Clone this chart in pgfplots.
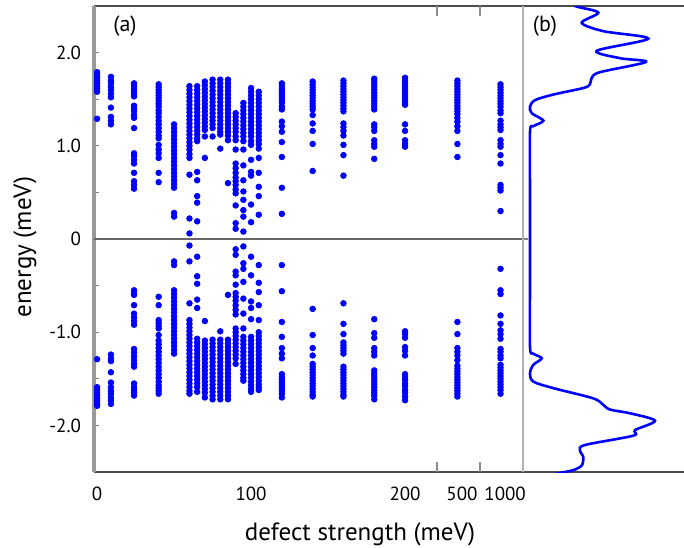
\documentclass[border=0pt]{standalone}
\usepackage{fontspec}
\setmainfont{PT Sans}
\usepackage{pgfplots}
\pgfplotsset{compat=1.18}
\begin{document}
\begin{tikzpicture}
\useasboundingbox (-47pt,-37.5pt) rectangle (295pt,236pt);
\begin{axis}[
  at={(0,0)}, anchor=south west,
  width=214.5pt, height=233pt, scale only axis,
  xmin=-2, xmax=276.6, ymin=-2.5, ymax=2.5,
  axis x line=box, axis y line*=left,
  x axis line style={-, draw=black!70, line width=1pt},
  y axis line style={-, draw=black!40, line width=1.6pt},
  xtick={0,100,200,237,265}, xticklabels={0,100,200,500,1000},
  xtick style={draw=none},
  extra x ticks={220.8,248.7}, extra x tick labels={},
  extra x tick style={xtick style={draw=black!45, line width=1.4pt}, major tick length=5pt},
  ytick={-2,-1.5,-1,-0.5,0,0.5,1,1.5,2},
  yticklabels={-2.0,,-1.0,,0,,1.0,,2.0},
  ytick style={draw=black!50, line width=0.6pt}, major tick length=2.5pt,
  tick align=inside,
  every tick label/.append style={font=\fontsize{9.5}{11}\selectfont},
  yticklabel style={xshift=-3pt},
  xticklabel style={yshift=-4pt},
  xlabel={defect strength (meV)},
  ylabel={energy (meV)},
  every axis x label/.style={at={(axis description cs:0.62,0)}, anchor=north, yshift=-22pt, font=\fontsize{12.5}{14}\selectfont},
  every axis y label/.style={at={([xshift=-34.5pt,yshift=-4pt]axis description cs:0,0.5)}, rotate=90, anchor=center, font=\fontsize{12.5}{14}\selectfont},
]
\draw[black!60, line width=0.7pt] (axis cs:-2,0) -- (axis cs:276.6,0);
\addplot[only marks, mark=*, mark size=1.4pt, color=blue, mark options={draw=blue, fill=blue}] coordinates {
(0,1.79) (0,1.76) (0,1.73) (0,1.70) (0,1.67) (0,1.64) (0,1.61) (0,1.58) (0,1.29)
(0,-1.29) (0,-1.59) (0,-1.62) (0,-1.65) (0,-1.68) (0,-1.71) (0,-1.74) (0,-1.77) (0,-1.79)
(9,1.74) (9,1.70) (9,1.67) (9,1.63) (9,1.60) (9,1.56) (9,1.52) (9,1.41) (9,1.31) (9,1.27) (9,1.23)
(9,-1.24) (9,-1.28) (9,-1.31) (9,-1.43) (9,-1.54) (9,-1.59) (9,-1.63) (9,-1.66) (9,-1.70) (9,-1.73) (9,-1.77)
(24,1.67) (24,1.64) (24,1.61) (24,1.58) (24,1.55) (24,1.53) (24,1.43) (24,1.40) (24,1.37) (24,1.33) (24,1.30) (24,1.19) (24,0.92) (24,0.89) (24,0.85) (24,0.81) (24,0.71) (24,0.62) (24,0.58) (24,0.54)
(24,-0.55) (24,-0.58) (24,-0.60) (24,-0.71) (24,-0.80) (24,-0.84) (24,-0.88) (24,-0.92) (24,-1.18) (24,-1.22) (24,-1.26) (24,-1.30) (24,-1.34) (24,-1.37) (24,-1.55) (24,-1.59) (24,-1.62) (24,-1.65) (24,-1.68)
(40,1.66) (40,1.63) (40,1.60) (40,1.57) (40,1.54) (40,1.51) (40,1.48) (40,1.45) (40,1.42) (40,1.38) (40,1.35) (40,1.31) (40,1.27) (40,1.23) (40,1.19) (40,1.15) (40,1.11) (40,1.08) (40,1.01) (40,0.96) (40,0.92) (40,0.87) (40,0.71) (40,0.61)
(40,-0.62) (40,-0.71) (40,-0.87) (40,-0.90) (40,-0.93) (40,-0.96) (40,-1.03) (40,-1.09) (40,-1.13) (40,-1.17) (40,-1.21) (40,-1.25) (40,-1.29) (40,-1.33) (40,-1.37) (40,-1.41) (40,-1.45) (40,-1.49) (40,-1.53) (40,-1.57) (40,-1.60) (40,-1.63) (40,-1.66)
(50,1.23) (50,1.19) (50,1.15) (50,1.11) (50,1.07) (50,1.03) (50,0.99) (50,0.95) (50,0.91) (50,0.87) (50,0.83) (50,0.79) (50,0.75) (50,0.71) (50,0.67) (50,0.63) (50,0.59) (50,0.55) (50,0.28) (50,0.24)
(50,-0.24) (50,-0.28) (50,-0.55) (50,-0.59) (50,-0.63) (50,-0.67) (50,-0.71) (50,-0.75) (50,-0.79) (50,-0.83) (50,-0.87) (50,-0.91) (50,-0.95) (50,-0.99) (50,-1.03) (50,-1.07) (50,-1.11) (50,-1.15) (50,-1.19) (50,-1.23)
(60,1.64) (60,1.60) (60,1.56) (60,1.52) (60,1.48) (60,1.44) (60,1.40) (60,1.36) (60,1.32) (60,1.28) (60,1.24) (60,1.20) (60,1.16) (60,1.12) (60,1.08) (60,1.04) (60,1.00) (60,0.96) (60,0.91) (60,0.87) (60,0.69) (60,0.22) (60,0.06)
(60,-0.07) (60,-0.24) (60,-0.69) (60,-0.87) (60,-0.91) (60,-0.95) (60,-0.99) (60,-1.03) (60,-1.07) (60,-1.11) (60,-1.15) (60,-1.19) (60,-1.23) (60,-1.27) (60,-1.31) (60,-1.35) (60,-1.39) (60,-1.43) (60,-1.47) (60,-1.51) (60,-1.55) (60,-1.59) (60,-1.63) (60,-1.66)
(65,1.64) (65,1.60) (65,1.56) (65,1.52) (65,1.48) (65,1.44) (65,1.40) (65,1.36) (65,1.32) (65,1.28) (65,1.24) (65,1.20) (65,1.16) (65,1.12) (65,1.08) (65,1.05) (65,0.72) (65,0.63) (65,0.46) (65,0.39) (65,0.19)
(65,-0.19) (65,-0.40) (65,-0.48) (65,-0.65) (65,-0.74) (65,-1.07) (65,-1.11) (65,-1.15) (65,-1.19) (65,-1.23) (65,-1.27) (65,-1.31) (65,-1.35) (65,-1.39) (65,-1.43) (65,-1.47) (65,-1.51) (65,-1.55) (65,-1.59) (65,-1.64)
(70,1.69) (70,1.65) (70,1.61) (70,1.57) (70,1.53) (70,1.49) (70,1.45) (70,1.41) (70,1.37) (70,1.33) (70,1.29) (70,1.25) (70,1.21) (70,1.17) (70,1.10) (70,0.87)
(70,-0.88) (70,-1.09) (70,-1.13) (70,-1.17) (70,-1.21) (70,-1.25) (70,-1.29) (70,-1.33) (70,-1.37) (70,-1.41) (70,-1.45) (70,-1.49) (70,-1.53) (70,-1.57) (70,-1.61) (70,-1.65) (70,-1.70)
(75,1.71) (75,1.67) (75,1.63) (75,1.59) (75,1.55) (75,1.51) (75,1.47) (75,1.43) (75,1.39) (75,1.35) (75,1.31) (75,1.27) (75,1.23) (75,1.19) (75,1.10)
(75,-1.08) (75,-1.12) (75,-1.16) (75,-1.20) (75,-1.24) (75,-1.28) (75,-1.32) (75,-1.36) (75,-1.40) (75,-1.44) (75,-1.48) (75,-1.52) (75,-1.56) (75,-1.60) (75,-1.64) (75,-1.68) (75,-1.72)
(80,1.71) (80,1.67) (80,1.63) (80,1.59) (80,1.55) (80,1.51) (80,1.47) (80,1.43) (80,1.39) (80,1.35) (80,1.31) (80,1.27) (80,1.23) (80,1.19) (80,1.15) (80,1.12) (80,0.97)
(80,-0.99) (80,-1.08) (80,-1.12) (80,-1.16) (80,-1.20) (80,-1.24) (80,-1.28) (80,-1.32) (80,-1.36) (80,-1.40) (80,-1.44) (80,-1.48) (80,-1.52) (80,-1.56) (80,-1.60) (80,-1.64) (80,-1.68) (80,-1.72)
(85,1.71) (85,1.67) (85,1.63) (85,1.59) (85,1.55) (85,1.51) (85,1.47) (85,1.43) (85,1.39) (85,1.35) (85,1.31) (85,1.27) (85,1.23) (85,1.19) (85,1.15) (85,1.11) (85,1.06) (85,0.60)
(85,-0.60) (85,-1.08) (85,-1.12) (85,-1.16) (85,-1.20) (85,-1.24) (85,-1.28) (85,-1.32) (85,-1.36) (85,-1.40) (85,-1.44) (85,-1.48) (85,-1.52) (85,-1.56) (85,-1.60) (85,-1.64) (85,-1.68) (85,-1.72)
(90,1.35) (90,1.31) (90,1.27) (90,1.23) (90,1.19) (90,1.15) (90,1.10) (90,1.06) (90,0.96) (90,0.81) (90,0.76) (90,0.71) (90,0.66) (90,0.62) (90,0.58) (90,0.53) (90,0.49) (90,0.36) (90,0.17) (90,0.11)
(90,-0.11) (90,-0.17) (90,-0.35) (90,-0.39) (90,-0.49) (90,-0.58) (90,-0.62) (90,-0.66) (90,-0.71) (90,-0.76) (90,-0.81) (90,-0.96) (90,-1.00) (90,-1.04) (90,-1.08) (90,-1.12) (90,-1.16) (90,-1.20) (90,-1.24) (90,-1.28) (90,-1.34)
(95,1.46) (95,1.42) (95,1.38) (95,1.34) (95,1.30) (95,1.26) (95,1.22) (95,1.18) (95,1.14) (95,1.10) (95,1.05) (95,0.96) (95,0.79) (95,0.63) (95,0.51) (95,0.42) (95,0.31) (95,0.24) (95,0.08)
(95,-0.08) (95,-0.26) (95,-0.32) (95,-0.46) (95,-0.64) (95,-0.80) (95,-0.96) (95,-1.05) (95,-1.09) (95,-1.13) (95,-1.17) (95,-1.21) (95,-1.25) (95,-1.29) (95,-1.33) (95,-1.37) (95,-1.41) (95,-1.45) (95,-1.49) (95,-1.52)
(100,1.62) (100,1.58) (100,1.54) (100,1.50) (100,1.46) (100,1.42) (100,1.38) (100,1.34) (100,1.30) (100,1.26) (100,1.22) (100,1.18) (100,1.14) (100,1.10) (100,1.05) (100,1.01) (100,0.85) (100,0.72) (100,0.68) (100,0.37) (100,0.18)
(100,-0.19) (100,-0.39) (100,-0.67) (100,-0.74) (100,-0.86) (100,-1.05) (100,-1.09) (100,-1.13) (100,-1.17) (100,-1.21) (100,-1.25) (100,-1.29) (100,-1.33) (100,-1.37) (100,-1.41) (100,-1.45) (100,-1.49) (100,-1.53) (100,-1.57) (100,-1.61) (100,-1.64)
(105,1.58) (105,1.54) (105,1.50) (105,1.46) (105,1.42) (105,1.38) (105,1.34) (105,1.30) (105,1.26) (105,1.22) (105,1.18) (105,1.14) (105,1.10) (105,1.06) (105,1.02) (105,0.97) (105,0.87) (105,0.71) (105,0.56) (105,0.46) (105,0.26)
(105,-0.28) (105,-0.47) (105,-0.57) (105,-0.71) (105,-0.87) (105,-1.00) (105,-1.04) (105,-1.08) (105,-1.12) (105,-1.16) (105,-1.20) (105,-1.24) (105,-1.28) (105,-1.32) (105,-1.36) (105,-1.40) (105,-1.44) (105,-1.48) (105,-1.52) (105,-1.56) (105,-1.59) (105,-1.62)
(120,1.67) (120,1.64) (120,1.61) (120,1.58) (120,1.55) (120,1.52) (120,1.49) (120,1.46) (120,1.42) (120,1.39) (120,1.26) (120,1.21) (120,1.15) (120,1.04) (120,0.88) (120,0.55) (120,0.27)
(120,-0.28) (120,-0.56) (120,-0.89) (120,-1.05) (120,-1.17) (120,-1.23) (120,-1.28) (120,-1.45) (120,-1.48) (120,-1.51) (120,-1.54) (120,-1.57) (120,-1.60) (120,-1.63) (120,-1.66) (120,-1.70)
(140,1.69) (140,1.66) (140,1.63) (140,1.60) (140,1.57) (140,1.54) (140,1.51) (140,1.48) (140,1.45) (140,1.42) (140,1.39) (140,1.33) (140,1.24) (140,1.16) (140,1.02) (140,0.73)
(140,-0.75) (140,-1.03) (140,-1.17) (140,-1.25) (140,-1.34) (140,-1.37) (140,-1.40) (140,-1.43) (140,-1.46) (140,-1.49) (140,-1.52) (140,-1.55) (140,-1.58) (140,-1.61) (140,-1.64) (140,-1.67) (140,-1.69)
(160,1.70) (160,1.67) (160,1.64) (160,1.61) (160,1.58) (160,1.55) (160,1.52) (160,1.49) (160,1.46) (160,1.43) (160,1.40) (160,1.37) (160,1.24) (160,1.20) (160,1.16) (160,1.11) (160,1.01) (160,0.90) (160,0.68)
(160,-0.69) (160,-0.91) (160,-1.02) (160,-1.11) (160,-1.14) (160,-1.17) (160,-1.20) (160,-1.23) (160,-1.37) (160,-1.40) (160,-1.43) (160,-1.46) (160,-1.49) (160,-1.52) (160,-1.55) (160,-1.58) (160,-1.61) (160,-1.64) (160,-1.67) (160,-1.69)
(180,1.72) (180,1.69) (180,1.66) (180,1.63) (180,1.60) (180,1.57) (180,1.54) (180,1.51) (180,1.48) (180,1.45) (180,1.42) (180,1.39) (180,1.23) (180,1.20) (180,1.16) (180,1.06) (180,1.02) (180,0.99) (180,0.86)
(180,-0.86) (180,-1.01) (180,-1.06) (180,-1.17) (180,-1.21) (180,-1.25) (180,-1.41) (180,-1.44) (180,-1.47) (180,-1.50) (180,-1.53) (180,-1.56) (180,-1.59) (180,-1.62) (180,-1.65) (180,-1.68) (180,-1.72)
(200,1.73) (200,1.70) (200,1.67) (200,1.64) (200,1.61) (200,1.58) (200,1.55) (200,1.52) (200,1.49) (200,1.46) (200,1.44) (200,1.23) (200,1.16) (200,1.06) (200,1.02) (200,0.99)
(200,-0.99) (200,-1.02) (200,-1.06) (200,-1.16) (200,-1.20) (200,-1.25) (200,-1.45) (200,-1.48) (200,-1.51) (200,-1.55) (200,-1.58) (200,-1.62) (200,-1.65) (200,-1.69) (200,-1.73)
(234,1.70) (234,1.67) (234,1.64) (234,1.61) (234,1.58) (234,1.55) (234,1.52) (234,1.49) (234,1.46) (234,1.43) (234,1.40) (234,1.37) (234,1.34) (234,1.30) (234,1.26) (234,1.21) (234,1.16) (234,1.02) (234,0.88)
(234,-0.89) (234,-1.02) (234,-1.17) (234,-1.21) (234,-1.25) (234,-1.30) (234,-1.36) (234,-1.39) (234,-1.42) (234,-1.45) (234,-1.48) (234,-1.51) (234,-1.54) (234,-1.57) (234,-1.60) (234,-1.63) (234,-1.66) (234,-1.69)
(262,1.66) (262,1.63) (262,1.60) (262,1.57) (262,1.54) (262,1.51) (262,1.48) (262,1.45) (262,1.42) (262,1.38) (262,1.35) (262,1.27) (262,1.23) (262,1.20) (262,1.17) (262,1.06) (262,1.02) (262,0.99) (262,0.90) (262,0.81) (262,0.58) (262,0.55) (262,0.52) (262,0.30)
(262,-0.32) (262,-0.55) (262,-0.59) (262,-0.82) (262,-0.91) (262,-0.98) (262,-1.02) (262,-1.07) (262,-1.18) (262,-1.21) (262,-1.25) (262,-1.28) (262,-1.35) (262,-1.38) (262,-1.41) (262,-1.44) (262,-1.47) (262,-1.50) (262,-1.53) (262,-1.56) (262,-1.59) (262,-1.62) (262,-1.66)
};
\node[font=\fontsize{11}{13}\selectfont, anchor=center] at (rel axis cs:0,1) [xshift=15.5pt, yshift=-10pt] {(a)};
\end{axis}
\begin{axis}[
  at={(214.5pt,0)}, anchor=south west,
  width=80.5pt, height=233pt, scale only axis,
  xmin=0, xmax=161, ymin=-2.5, ymax=2.5,
  axis x line=box, axis y line*=left,
  x axis line style={-, draw=black!70, line width=1pt},
  y axis line style={-, draw=black!30, line width=0.6pt},
  xtick=\empty, ytick={0}, yticklabels={},
  ytick style={draw=black!50, line width=0.6pt}, major tick length=2.5pt, tick align=inside,
]
\addplot[blue, line width=1.3pt, smooth, tension=0.5] coordinates {
(52,2.56) (52,2.50) (75.3,2.43) (58.7,2.32) (80.3,2.23) (125.3,2.15) (73.7,2.02) (97,1.94) (123,1.90)
(77,1.79) (68.7,1.73) (67,1.66) (60.3,1.62) (30.3,1.55) (12,1.49) (7,1.42) (8.7,1.35) (20.3,1.27)
(10.3,1.21) (7,1.15) (7,0.5) (7,0) (7,-0.5) (7,-1.16) (10.3,-1.23) (18.7,-1.28) (10.3,-1.35) (7,-1.44)
(10.3,-1.53) (30.3,-1.60) (70.3,-1.71) (80.3,-1.78) (87,-1.83) (107,-1.87) (132,-1.95) (112,-2.05)
(110.3,-2.11) (62,-2.21) (57,-2.27) (60.3,-2.34) (58.7,-2.43) (50.3,-2.48) (37,-2.51) (25,-2.54)
};
\node[font=\fontsize{11}{13}\selectfont, anchor=center] at (rel axis cs:0,1) [xshift=11pt, yshift=-10pt] {(b)};
\end{axis}
\end{tikzpicture}
\end{document}
